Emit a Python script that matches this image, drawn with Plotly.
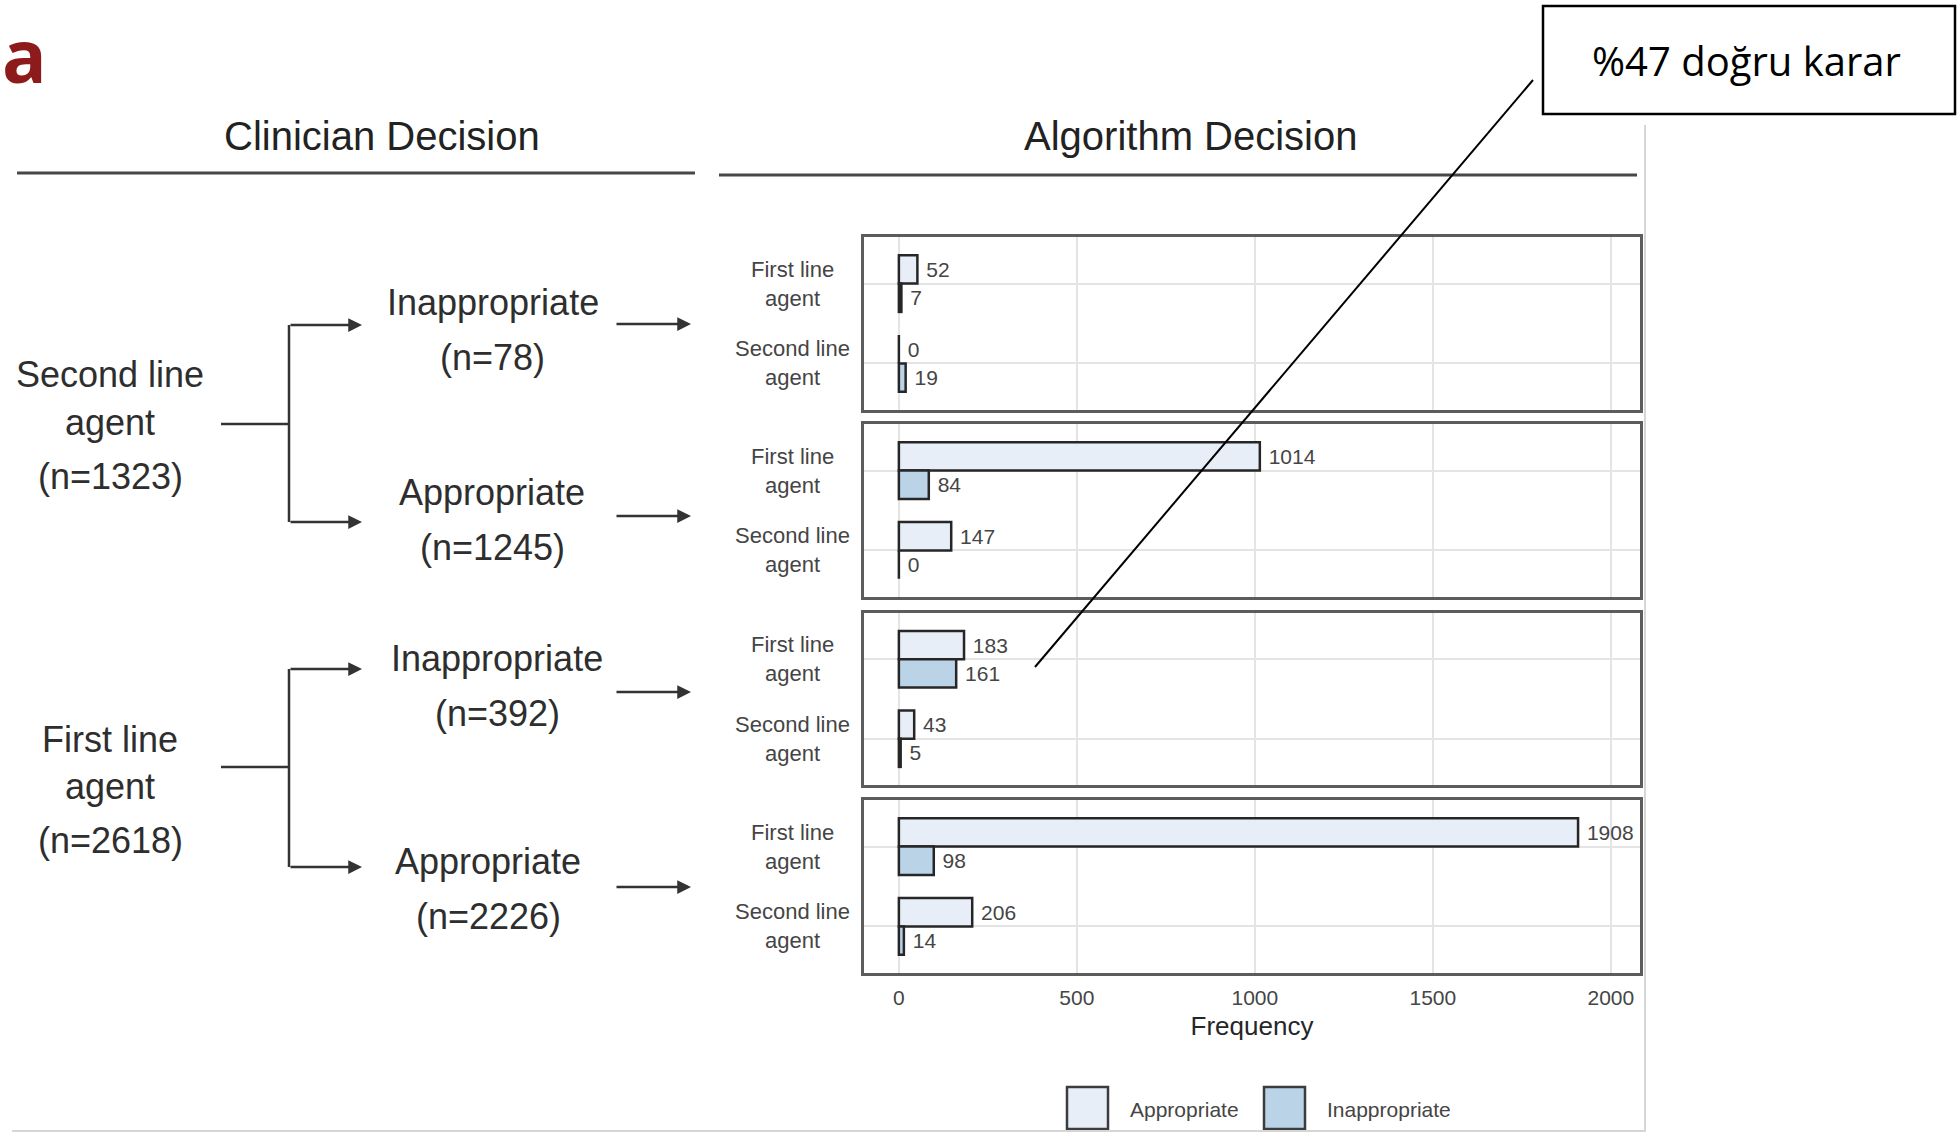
import plotly.graph_objects as go

W, H = 1957, 1132

# ---------------- data ----------------
agent_categories = ["First line agent", "Second line agent"]
agent_tick_labels = ["First line<br>agent", "Second line<br>agent"]
series_names = ["Appropriate", "Inappropriate"]
series_colors = ["#E8EEF7", "#BAD3E7"]

clinician_agents = ["Second line", "First line"]
clinician_decisions = ["Inappropriate", "Appropriate", "Inappropriate", "Appropriate"]

# algorithm decision counts, one row per clinician-decision panel
# each row: [First line agent, Second line agent]
appropriate_counts = [
    [52, 0],
    [1014, 147],
    [183, 43],
    [1908, 206],
]
inappropriate_counts = [
    [7, 19],
    [84, 0],
    [161, 5],
    [98, 14],
]

x_tick_values = [0, 500, 1000, 1500, 2000]
x_tick_labels = ["0", "500", "1000", "1500", "2000"]

header_left = "Clinician Decision"
header_right = "Algorithm Decision"
x_title = "Frequency"
callout_text = "%47 doğru karar"
panel_letter = "a"

# ---------------- helpers (pixel -> paper) ----------------
def px(x):
    return x / W


def py(y):
    return 1 - y / H


FONT = "Liberation Sans, Arial, Helvetica, sans-serif"
DARK = "#2e2e2e"
GREY_TXT = "#454545"

panel_x = (864, 1640)
panel_y = [(237, 410), (424, 597), (613, 785), (800, 973)]

fig = go.Figure()

for i in range(4):
    ax = "" if i == 0 else str(i + 1)
    for s, counts in enumerate([appropriate_counts, inappropriate_counts]):
        fig.add_trace(go.Bar(
            x=counts[i],
            y=agent_categories,
            orientation="h",
            name=series_names[s],
            marker=dict(color=series_colors[s], line=dict(color="#262626", width=2.5)),
            text=["\u00a0" + str(v) for v in counts[i]],
            textposition="outside",
            constraintext="none",
            cliponaxis=False,
            textfont=dict(size=21, color=GREY_TXT, family=FONT),
            xaxis="x" + ax,
            yaxis="y" + ax,
            showlegend=False,
        ))

layout = dict(
    width=W, height=H,
    margin=dict(l=0, r=0, t=0, b=0),
    paper_bgcolor="white",
    plot_bgcolor="white",
    font=dict(family=FONT, color=DARK),
    barmode="group",
    bargap=0.29,
    bargroupgap=0.0,
    showlegend=False,
)

for i in range(4):
    ax = "" if i == 0 else str(i + 1)
    y0, y1 = panel_y[i]
    layout["xaxis" + ax] = dict(
        domain=[px(panel_x[0]), px(panel_x[1])],
        anchor="y" + ax,
        range=[-98, 2082],
        tickvals=x_tick_values,
        ticktext=x_tick_labels,
        showticklabels=(i == 3),
        tickfont=dict(size=21, color=GREY_TXT),
        ticklabelstandoff=4,
        showgrid=True, gridcolor="#e4e4e4", gridwidth=1.5,
        zeroline=False,
        showline=True, mirror=True, linecolor="#5c5c5c", linewidth=2.5,
        ticks="",
    )
    layout["yaxis" + ax] = dict(
        domain=[py(y1), py(y0)],
        anchor="x" + ax,
        type="category",
        categoryarray=agent_categories,
        range=[1.583, -0.583],
        showticklabels=False,
        showgrid=True, gridcolor="#e4e4e4", gridwidth=1.5,
        zeroline=False,
        showline=True, mirror=True, linecolor="#5c5c5c", linewidth=2.5,
        ticks="",
    )

layout["xaxis4"]["title"] = dict(text=x_title, font=dict(size=26, color="#262626"), standoff=9)

fig.update_layout(**layout)

annotations = []
shapes = []

# category labels on each panel (centered, like the original)
for i in range(4):
    ax = "" if i == 0 else str(i + 1)
    for cat, lab in zip(agent_categories, agent_tick_labels):
        annotations.append(dict(
            text=lab, x=px(792), xref="paper", y=cat, yref="y" + ax,
            xanchor="center", yanchor="middle", align="center", showarrow=False,
            font=dict(size=22, color=GREY_TXT),
        ))

# headers
annotations.append(dict(text=header_left, x=px(382), y=py(136), xref="paper", yref="paper",
                        xanchor="center", yanchor="middle", showarrow=False,
                        font=dict(size=40, color="#222222")))
annotations.append(dict(text=header_right, x=px(1190), y=py(136), xref="paper", yref="paper",
                        xanchor="center", yanchor="middle", showarrow=False,
                        font=dict(size=40, color="#222222")))
shapes.append(dict(type="line", xref="paper", yref="paper", x0=px(17), x1=px(695),
                   y0=py(173), y1=py(173), line=dict(color="#474747", width=3)))
shapes.append(dict(type="line", xref="paper", yref="paper", x0=px(719), x1=px(1637),
                   y0=py(175), y1=py(175), line=dict(color="#474747", width=3)))

# panel letter
annotations.append(dict(text="<b>" + panel_letter + "</b>", x=0, y=py(54), xref="paper", yref="paper",
                        xanchor="left", yanchor="middle", showarrow=False,
                        font=dict(size=74, color="#8E1B1B", family="Open Sans, Noto Sans, sans-serif")))

# clinician decision flow (left)
panel_totals = [sum(appropriate_counts[i]) + sum(inappropriate_counts[i]) for i in range(4)]
agent_totals = [panel_totals[0] + panel_totals[1], panel_totals[2] + panel_totals[3]]

agent_line_y = [(374, 422, 476), (739, 786, 840)]
for g in range(2):
    ys = agent_line_y[g]
    for txt, yy in zip([clinician_agents[g], "agent", "(n=%d)" % agent_totals[g]], ys):
        annotations.append(dict(text=txt, x=px(110), y=py(yy), xref="paper", yref="paper",
                                xanchor="center", yanchor="middle", showarrow=False,
                                font=dict(size=36, color=DARK)))

decision_pos = [(493, 302, 357), (492, 492, 547), (497, 658, 713), (488, 861, 916)]
for i in range(4):
    xx, ya, yb = decision_pos[i]
    annotations.append(dict(text=clinician_decisions[i], x=px(xx), y=py(ya), xref="paper", yref="paper",
                            xanchor="center", yanchor="middle", showarrow=False,
                            font=dict(size=36, color=DARK)))
    annotations.append(dict(text="(n=%d)" % panel_totals[i], x=px(xx), y=py(yb), xref="paper", yref="paper",
                            xanchor="center", yanchor="middle", showarrow=False,
                            font=dict(size=36, color=DARK)))

# brackets
brackets = [(424, 325, 522), (767, 669, 867)]
for mid, top, bot in brackets:
    shapes.append(dict(type="line", xref="paper", yref="paper", x0=px(221), x1=px(289),
                       y0=py(mid), y1=py(mid), line=dict(color="#333333", width=2.5)))
    shapes.append(dict(type="line", xref="paper", yref="paper", x0=px(289), x1=px(289),
                       y0=py(top), y1=py(bot), line=dict(color="#333333", width=2.5)))
    for yy in (top, bot):
        annotations.append(dict(text="", x=px(362), y=py(yy), xref="paper", yref="paper",
                                ax=-73, ay=0, showarrow=True, arrowhead=2, arrowsize=1.1,
                                arrowwidth=2.5, arrowcolor="#333333"))

for yy in (324, 516, 692, 887):
    annotations.append(dict(text="", x=px(691), y=py(yy), xref="paper", yref="paper",
                            ax=-76, ay=0, showarrow=True, arrowhead=2, arrowsize=1.1,
                            arrowwidth=2.5, arrowcolor="#333333"))

# custom legend with large keys
legend_keys = [(1067, 1108, 1128), (1264, 1305, 1325)]
for s in range(2):
    k0, k1, tx = legend_keys[s]
    shapes.append(dict(type="rect", xref="paper", yref="paper", x0=px(k0), x1=px(k1),
                       y0=py(1129), y1=py(1087), fillcolor=series_colors[s],
                       line=dict(color="#3c3c3c", width=2.5)))
    annotations.append(dict(text=series_names[s], x=px(tx), y=py(1109), xref="paper", yref="paper",
                            xanchor="left", yanchor="middle", showarrow=False,
                            font=dict(size=21, color=GREY_TXT)))

# faint edges of the embedded figure
shapes.append(dict(type="line", xref="paper", yref="paper", x0=px(1645), x1=px(1645),
                   y0=py(125), y1=py(1132), line=dict(color="#d6d6d6", width=2)))
shapes.append(dict(type="line", xref="paper", yref="paper", x0=px(12), x1=px(1645),
                   y0=py(1131), y1=py(1131), line=dict(color="#d6d6d6", width=2)))

# callout
shapes.append(dict(type="rect", xref="paper", yref="paper", x0=px(1543), x1=px(1955),
                   y0=py(114), y1=py(6), line=dict(color="black", width=2.5), fillcolor="white"))
shapes.append(dict(type="line", xref="paper", yref="paper", x0=px(1533), x1=px(1035),
                   y0=py(80), y1=py(667), line=dict(color="black", width=2)))
annotations.append(dict(text=callout_text, x=px(1746), y=py(60), xref="paper", yref="paper",
                        xanchor="center", yanchor="middle", showarrow=False,
                        font=dict(size=40, color="black", family="Open Sans, Noto Sans, sans-serif")))

fig.update_layout(annotations=annotations, shapes=shapes)
fig.write_html("out.html")
